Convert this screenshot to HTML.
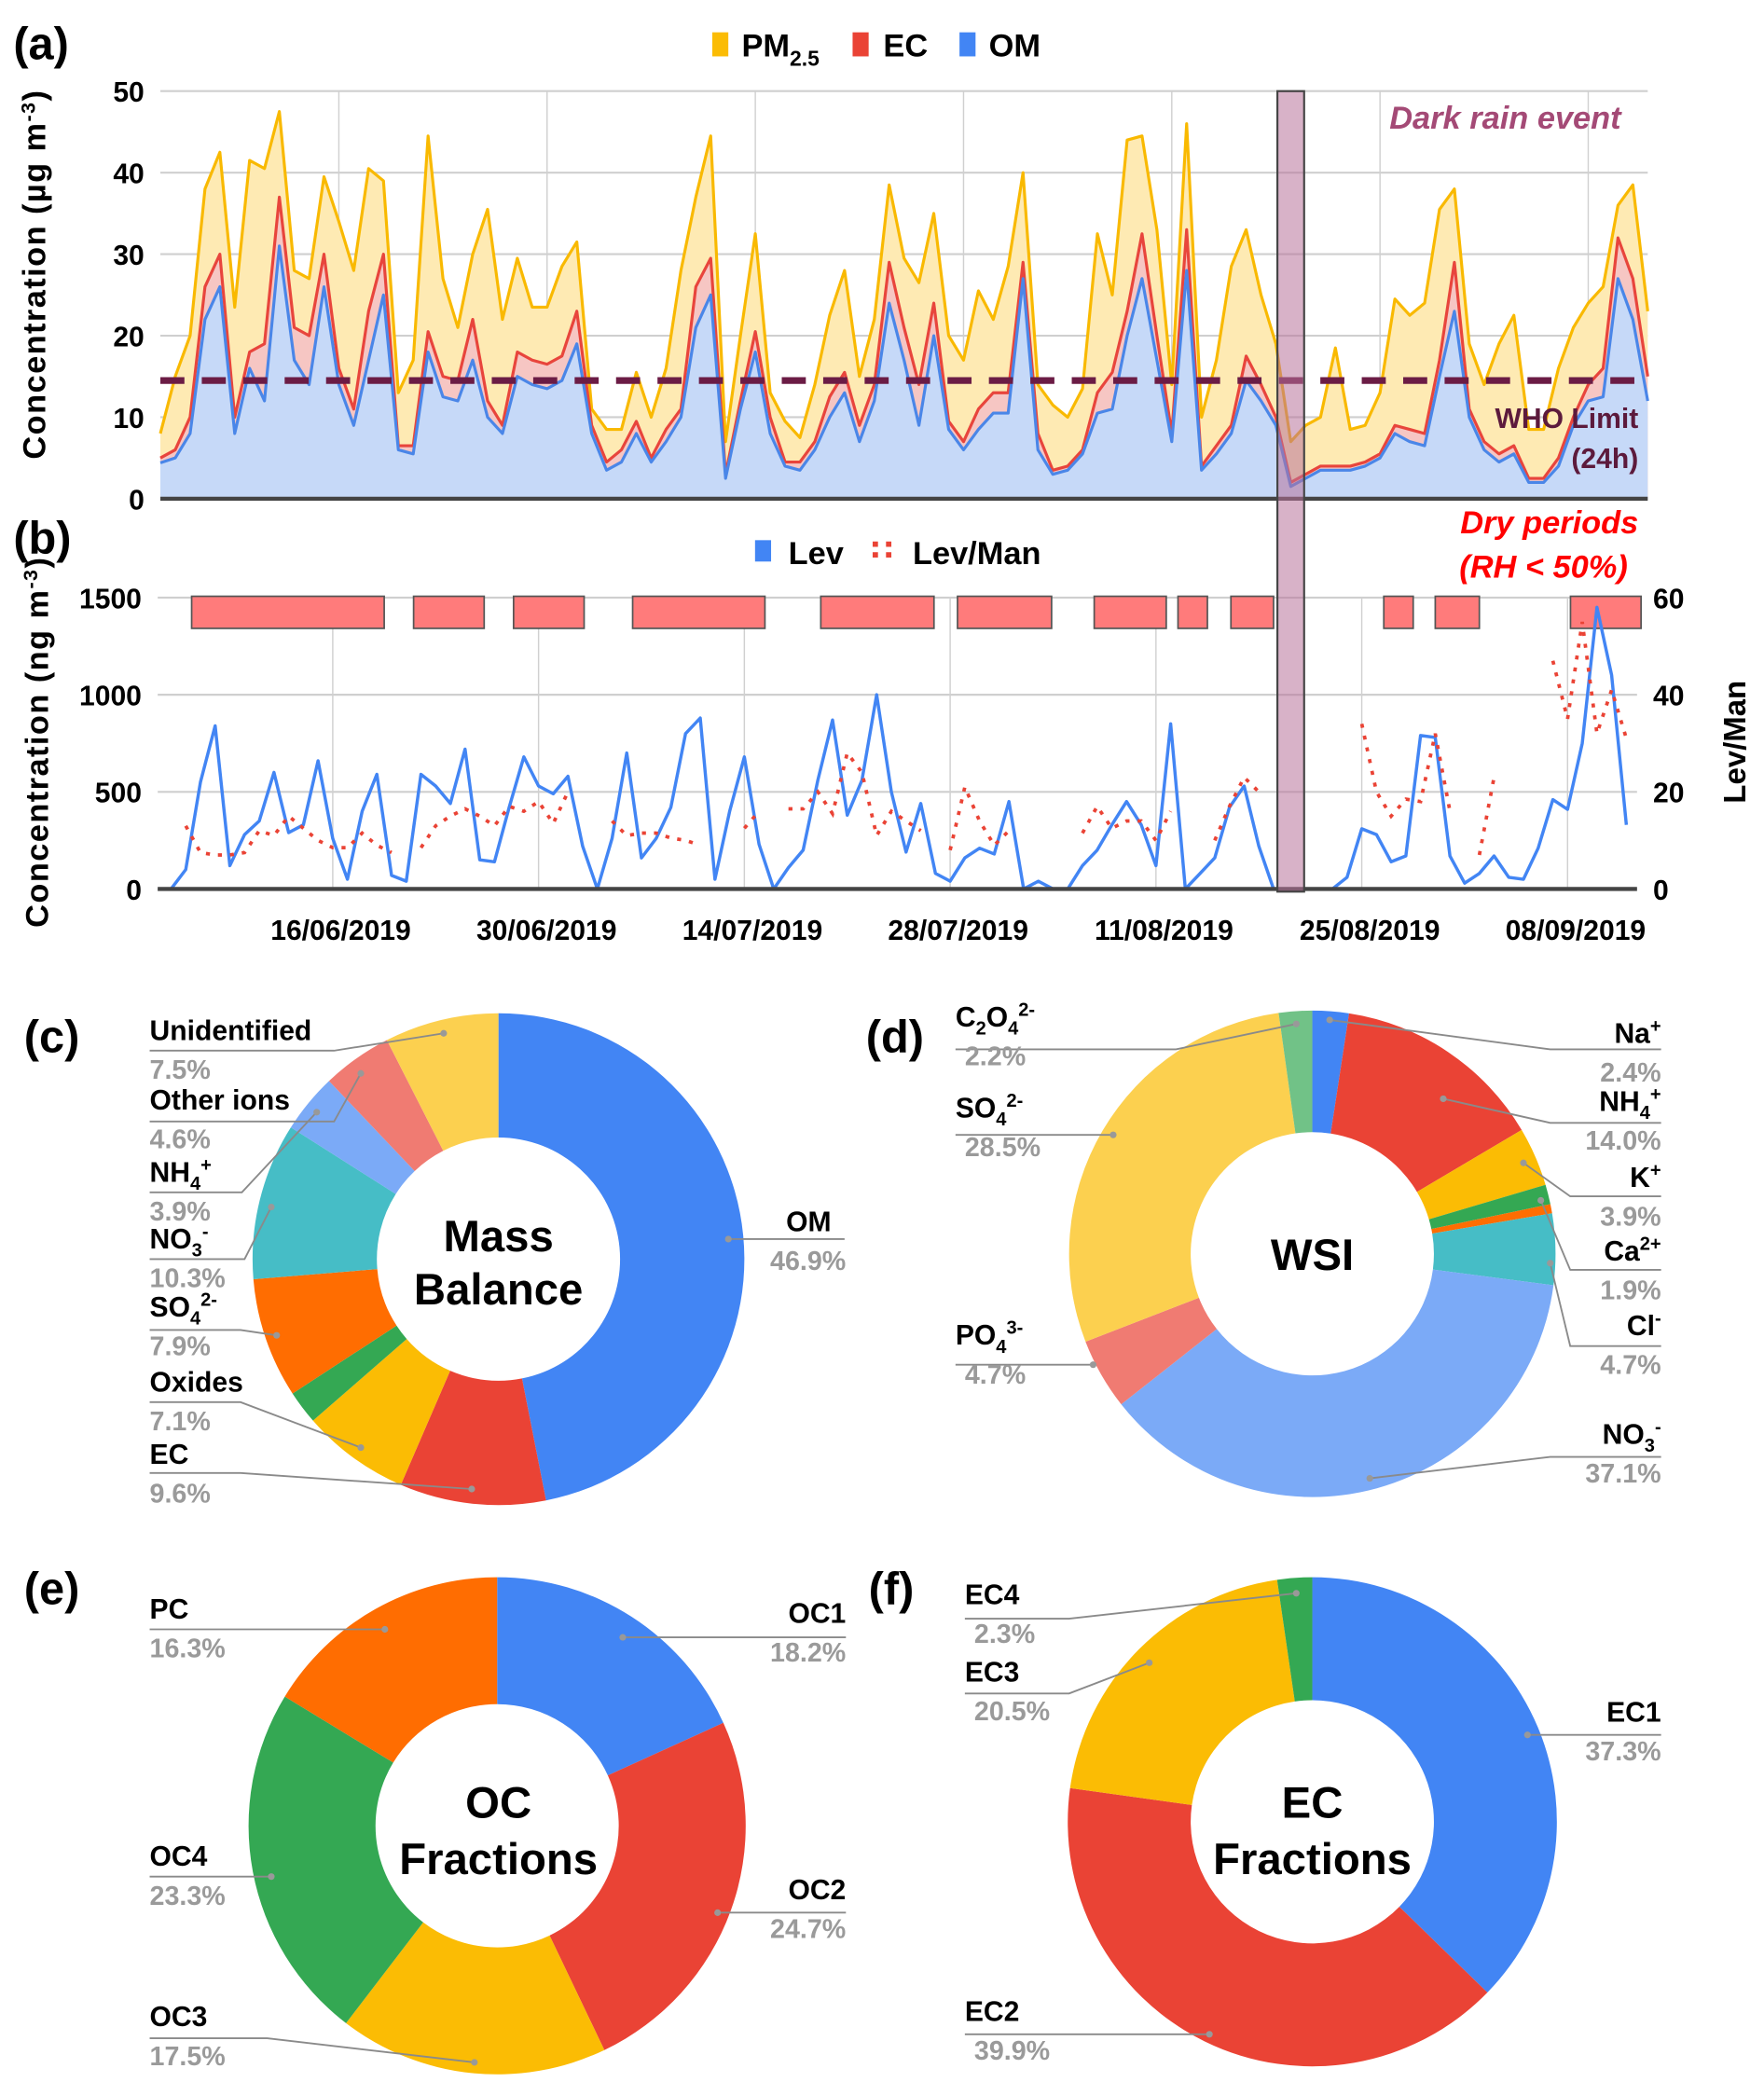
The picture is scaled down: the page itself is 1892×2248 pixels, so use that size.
<!DOCTYPE html>
<html><head><meta charset="utf-8"><style>
html,body{margin:0;padding:0;background:#fff;}
svg{display:block;font-family:"Liberation Sans",sans-serif;}
</style></head><body>
<svg id="s" width="1892" height="2248" viewBox="0 0 1320 1568" xmlns="http://www.w3.org/2000/svg">
<g id="ga"></g>
<g id="gb"></g>
<g id="gp"></g>
<g font-weight="bold">
<text x="10" y="44" font-size="34">(a)</text>
<text x="10" y="414" font-size="34">(b)</text>
<text x="18" y="787" font-size="34">(c)</text>
<text x="648" y="787" font-size="34">(d)</text>
<text x="18" y="1200" font-size="34">(e)</text>
<text x="650" y="1200" font-size="34">(f)</text>
<text transform="translate(34,205) rotate(-90)" text-anchor="middle" font-size="24" letter-spacing="1">Concentration (µg m<tspan dy="-8" font-size="15">-3</tspan><tspan dy="8">)</tspan></text>
<text transform="translate(36,555) rotate(-90)" text-anchor="middle" font-size="24" letter-spacing="1">Concentration (ng m<tspan dy="-8" font-size="15">-3</tspan><tspan dy="8">)</tspan></text>
<text transform="translate(1306,555) rotate(-90)" text-anchor="middle" font-size="23">Lev/Man</text>
<rect x="533" y="24" width="12" height="18" fill="#fbbc04"/>
<text x="555" y="42" font-size="24">PM<tspan dy="7" font-size="16">2.5</tspan></text>
<rect x="638" y="24" width="12" height="18" fill="#ea4335"/>
<text x="661" y="42" font-size="24">EC</text>
<rect x="718" y="24" width="12" height="18" fill="#4285f4"/>
<text x="740" y="42" font-size="24">OM</text>
<rect x="565" y="404" width="12" height="16" fill="#4285f4"/>
<text x="590" y="422" font-size="24">Lev</text>
<g fill="#ea4335"><rect x="653" y="405" width="4" height="4"/><rect x="653" y="413" width="4" height="4"/><rect x="663" y="405" width="4" height="4"/><rect x="663" y="413" width="4" height="4"/></g>
<text x="683" y="422" font-size="24">Lev/Man</text>
<text x="1213" y="96" text-anchor="end" font-size="24" font-style="italic" fill="#a44a76">Dark rain event</text>
<text x="1226" y="320" text-anchor="end" font-size="21" fill="#5c1a3c">WHO Limit</text>
<text x="1226" y="350" text-anchor="end" font-size="21" fill="#5c1a3c">(24h)</text>
<text x="1226" y="399" text-anchor="end" font-size="24" font-style="italic" fill="#ff0000">Dry periods</text>
<text x="1218" y="432" text-anchor="end" font-size="24" font-style="italic" fill="#ff0000">(RH &lt; 50%)</text>
</g>
</svg>
<script>
// ---------- chart (a) data ----------
const pmVals=[8,15,20,38,42.5,23.5,41.5,40.5,47.5,28,27,39.5,34,28,40.5,39,13,17,44.5,27,21,30,35.5,22,29.5,23.5,23.5,28.5,31.5,11,8.5,8.5,15.5,10,16,28,37,44.5,7,20,32.5,13,9.5,7.5,14,22.5,28,15,22,38.5,29.5,26.5,35,20,17,25.5,22,28.5,40,14,11.5,10,13.5,32.5,25,44,44.5,33,14,46,10,17,28.5,33,25,19,7,9,10,18.5,8.5,9,13,24.5,22.5,24,35.5,38,19,14,19,22.5,8.5,8.5,16,21,24,26,36,38.5,23];
const ecVals=[5,6,10,26,30,10,18,19,37,21,20,30,16,11,23,30,6.5,6.5,20.5,15,14.5,22,12,9,18,17,16.5,17.5,23,9,4.5,6,9.5,5,8.5,11,26,29.5,3,12,20.5,10,4.5,4.5,7,12.5,15.5,9,14,29,21,14,24,9.5,7,11,13,13,29,8,3.5,4,6,13,15.5,23,32.5,20,8,33,4,6.5,9,17.5,14,10,2,3,4,4,4,4.5,5.5,9,8.5,8,17,29,11,7,5.5,6.5,2.5,2.5,5,10,14,16,32,27,15];
const omVals=[4.4,5,8,22,26,8,16,12,31,17,14,26,14,9,17,25,6,5.5,18,12.5,12,17,10,8,15,14,13.5,14.5,19,8,3.5,4.5,8,4.5,7,10,21,25,2.5,11,18,8,4,3.5,6,10,13,7,12,24,17,9,20,8.5,6,8.5,10.5,10.5,27,6,3,3.5,5.5,10.5,11,20,27,17,7,28,3.5,5.5,8,14.5,12,9,1.5,2.5,3.5,3.5,3.5,4,5,8,7,6.5,15,23,10,6,4.5,5.5,2,2,4,9,12,12.5,27,22,12];
const whoLimit=14.5;
const aTicks=[0,10,20,30,40,50];
// ---------- chart (b) data ----------
const levVals=[0,100,550,840,120,280,350,600,290,330,660,260,50,400,590,70,40,590,530,440,720,150,140,420,680,530,490,580,220,0,260,700,160,260,420,800,880,50,400,680,230,0,110,200,560,870,380,560,1000,500,190,440,80,40,160,210,180,450,0,40,0,0,120,200,330,450,330,120,850,0,80,160,420,530,220,0,0,0,0,0,60,310,280,140,170,790,780,170,30,80,170,60,50,210,460,410,750,1450,1100,330];
const levManVals=[null,13,7.5,7,7,7.5,12,11,15,12.5,10,8.5,8.5,11.5,9,7.5,null,8.5,13,15,16.5,15,13,17,16,18,13.5,20,null,null,14,11,11.5,11.5,10.5,10,9,null,null,12.5,16,null,16.5,16.5,20,15.5,28,24,11,16,14,12,null,8,21,14,9,12,null,null,null,null,11.5,17,12.5,14,14,10,16,null,null,10,17,23,20,null,null,null,null,null,null,34,20,15,18.5,18,32,16,null,7,23,null,null,null,47,35,55,32,41,31];
const bTicksL=[0,500,1000,1500];
const bTicksR=[0,20,40,60];
const dateLabels=["16/06/2019","30/06/2019","14/07/2019","28/07/2019","11/08/2019","25/08/2019","08/09/2019"];
const dateIdx=[12,26,40,54,68,82,96];
const dryStart=[1.4,16.5,23.3,31.4,44.2,53.5,62.8,68.5,72.1,82.5,86,95.2];
const dryEnd=[14.5,21.3,28.1,40.4,51.9,59.9,67.7,70.5,75,84.5,89,100];
const rainIdx=76;
// ---------- pie data ----------
const massLabels=["OM","EC","Oxides","","SO4","NO3","NH4","Other ions","Unidentified"];
const massVals=[46.9,9.6,7.1,2.2,7.9,10.3,3.9,4.6,7.5];
const wsiLabels=["Na+","NH4+","K+","","Ca2+","Cl-","NO3-","PO43-","SO42-","C2O42-"];
const wsiVals=[2.4,14.0,3.9,1.3,0.6,4.7,37.1,4.7,28.5,2.2];
const ocLabels=["OC1","OC2","OC3","OC4","PC"];
const ocVals=[18.2,24.7,17.5,23.3,16.3];
const ecfLabels=["EC1","EC2","EC3","EC4"];
const ecfVals=[37.3,39.9,20.5,2.3];

const NS="http://www.w3.org/2000/svg";
function mk(p,t,a){const e=document.createElementNS(NS,t);for(const k in a)e.setAttribute(k,a[k]);p.appendChild(e);return e;}
// ---- chart a ----
const ga=document.getElementById('ga');
const aX0=120,aX1=1233,aY0=373,aY1=68;
const xa=i=>aX0+i*(aX1-aX0)/(pmVals.length-1);
const ya=v=>aY0-(v/50)*(aY0-aY1);
aTicks.forEach(t=>{const l=mk(ga,'line',{x1:aX0,x2:aX1,y1:ya(t),y2:ya(t),stroke:'#cfcfcf','stroke-width':1.5});

const tx=mk(ga,'text',{x:108,y:ya(t)+8,'text-anchor':'end','font-size':21,'font-weight':'bold'});tx.textContent=t;
});
dateIdx.forEach(d=>{const l=mk(ga,'line',{x1:xa(d),x2:xa(d),y1:aY1,y2:aY0,stroke:'#d0d0d0','stroke-width':1});
});
function area(vals,fill,stroke,name){
 let d='M'+xa(0)+','+ya(0);vals.forEach((v,i)=>d+='L'+xa(i)+','+ya(v));d+='L'+xa(vals.length-1)+','+ya(0)+'Z';
 const a=mk(ga,'path',{d:d,fill:fill});
 let d2='';vals.forEach((v,i)=>d2+=(i?'L':'M')+xa(i)+','+ya(v));
 const l=mk(ga,'path',{d:d2,fill:'none',stroke:stroke,'stroke-width':2.2,'stroke-linejoin':'round'});}
area(pmVals,'#feeab3','#f9b900','pm25');
area(ecVals,'#f6c6c3','#e8453c','ec');
area(omVals,'#c6d9f8','#4a86e8','om');
const wl=mk(ga,'line',{x1:aX0,x2:aX1,y1:ya(whoLimit),y2:ya(whoLimit),stroke:'#6b1c45','stroke-width':5,'stroke-dasharray':'18,13'});

const ax=mk(ga,'line',{x1:aX0,x2:aX1,y1:aY0,y2:aY0,stroke:'#444','stroke-width':3});

// ---- chart b ----
const gb=document.getElementById('gb');
const bX0=118,bX1=1225,bY0=665,bY1=447;
const xb=i=>128+i*(1217-128)/(levVals.length-1);
const yb=v=>bY0-(v/1500)*(bY0-bY1);
const yr=v=>bY0-(v/60)*(bY0-bY1);
bTicksL.forEach(t=>{const l=mk(gb,'line',{x1:bX0,x2:bX1,y1:yb(t),y2:yb(t),stroke:'#cfcfcf','stroke-width':1.5});

const tx=mk(gb,'text',{x:106,y:yb(t)+8,'text-anchor':'end','font-size':21,'font-weight':'bold'});tx.textContent=t;
});
bTicksR.forEach(t=>{const tx=mk(gb,'text',{x:1237,y:yr(t)+8,'font-size':21,'font-weight':'bold'});tx.textContent=t;
});
dateIdx.forEach((d,k)=>{const x=xb(d-1);const l=mk(gb,'line',{x1:x,x2:x,y1:bY1,y2:bY0,stroke:'#d0d0d0','stroke-width':1});

const tx=mk(gb,'text',{x:x+6,y:703,'text-anchor':'middle','font-size':21,'font-weight':'bold'});tx.textContent=dateLabels[k];
});
dryStart.forEach((s,k)=>{const x1=xb(s),x2=xb(dryEnd[k]);
const r=mk(gb,'rect',{x:x1,y:446,width:x2-x1,height:24,fill:'#ff7b7b',stroke:'#555','stroke-width':1.2});
});
let dl='';levVals.forEach((v,i)=>dl+=(i?'L':'M')+xb(i)+','+yb(v));
const lv=mk(gb,'path',{d:dl,fill:'none',stroke:'#4285f4','stroke-width':2.4,'stroke-linejoin':'round'});

let dm='',pen=false;levManVals.forEach((v,i)=>{if(v===null){pen=false;return;}dm+=(pen?'L':'M')+xb(i)+','+yr(v);pen=true;});
const lm=mk(gb,'path',{d:dm,fill:'none',stroke:'#ea4335','stroke-width':2.6,'stroke-dasharray':'3,6'});

const bx=mk(gb,'line',{x1:bX0,x2:bX1,y1:bY0,y2:bY0,stroke:'#444','stroke-width':3});

const rb=mk(gb,'rect',{x:xa(rainIdx)-10,y:68,width:20,height:599,fill:'#b8739a','fill-opacity':0.55,stroke:'#444','stroke-width':1.5});

// ---- pies ----
const gp=document.getElementById('gp');
function pie(cx,cy,R,r,vals,cols,name){const tot=vals.reduce((a,b)=>a+b,0);let a0=-Math.PI/2;
vals.forEach((v,i)=>{const a1=a0+v/tot*2*Math.PI;const lg=(a1-a0)>Math.PI?1:0;
const p=[cx+R*Math.cos(a0),cy+R*Math.sin(a0),cx+R*Math.cos(a1),cy+R*Math.sin(a1),cx+r*Math.cos(a1),cy+r*Math.sin(a1),cx+r*Math.cos(a0),cy+r*Math.sin(a0)];
const s=mk(gp,'path',{d:`M${p[0]},${p[1]}A${R},${R} 0 ${lg} 1 ${p[2]},${p[3]}L${p[4]},${p[5]}A${r},${r} 0 ${lg} 0 ${p[6]},${p[7]}Z`,fill:cols[i]});
a0=a1;});}
pie(373,942,184,91,massVals,['#4285f4','#ea4335','#fbbc04','#34a853','#ff6d01','#46bdc6','#7baaf7','#f07b72','#fcd04f'],'mass-balance');
pie(982,938,182,91,wsiVals,['#4285f4','#ea4335','#fbbc04','#34a853','#ff6d01','#46bdc6','#7baaf7','#f07b72','#fcd04f','#71c287'],'wsi');
pie(372,1366,186,91,ocVals,['#4285f4','#ea4335','#fbbc04','#34a853','#ff6d01'],'oc-fractions');
pie(982,1363,183,91,ecfVals,['#4285f4','#ea4335','#fbbc04','#34a853'],'ec-fractions');
const L=[
['Unidentified','7.5%',112,778,'s',[[112,786],[250,786],[332,773]]],
['Other ions','4.6%',112,830,'s',[[112,839],[250,839],[270,803]]],
['NH<tspan dy="6" font-size="14">4</tspan><tspan dy="-14" font-size="14">+</tspan>','3.9%',112,884,'s',[[112,892],[181,892],[237,832]]],
['NO<tspan dy="6" font-size="14">3</tspan><tspan dy="-14" font-size="14">-</tspan>','10.3%',112,934,'s',[[112,942],[183,942],[203,903]]],
['SO<tspan dy="6" font-size="14">4</tspan><tspan dy="-14" font-size="14">2-</tspan>','7.9%',112,985,'s',[[112,995],[180,995],[207,999]]],
['Oxides','7.1%',112,1041,'s',[[112,1049],[180,1049],[270,1083]]],
['EC','9.6%',112,1095,'s',[[112,1102],[180,1102],[353,1114]]],
['OM','46.9%',622,921,'e',[[545,927],[632,927]]],
['C<tspan dy="6" font-size="14">2</tspan><tspan dy="-6">O</tspan><tspan dy="6" font-size="14">4</tspan><tspan dy="-14" font-size="14">2-</tspan>','2.2%',715,768,'s',[[715,785],[880,785],[970,766]]],
['Na<tspan dy="-8" font-size="14">+</tspan>','2.4%',1243,780,'e',[[995,763],[1160,785],[1243,785]]],
['NH<tspan dy="6" font-size="14">4</tspan><tspan dy="-14" font-size="14">+</tspan>','14.0%',1243,831,'e',[[1080,822],[1160,840],[1243,840]]],
['SO<tspan dy="6" font-size="14">4</tspan><tspan dy="-14" font-size="14">2-</tspan>','28.5%',715,836,'s',[[715,849],[833,849]]],
['K<tspan dy="-8" font-size="14">+</tspan>','3.9%',1243,888,'e',[[1140,870],[1175,895],[1243,895]]],
['Ca<tspan dy="-8" font-size="14">2+</tspan>','1.9%',1243,943,'e',[[1153,898],[1175,950],[1243,950]]],
['Cl<tspan dy="-8" font-size="14">-</tspan>','4.7%',1243,999,'e',[[1160,945],[1175,1007],[1243,1007]]],
['PO<tspan dy="6" font-size="14">4</tspan><tspan dy="-14" font-size="14">3-</tspan>','4.7%',715,1006,'s',[[715,1021],[818,1021]]],
['NO<tspan dy="6" font-size="14">3</tspan><tspan dy="-14" font-size="14">-</tspan>','37.1%',1243,1080,'e',[[1025,1106],[1160,1090],[1243,1090]]],
['PC','16.3%',112,1211,'s',[[112,1219],[288,1219]]],
['OC1','18.2%',633,1214,'e',[[466,1225],[633,1225]]],
['OC4','23.3%',112,1396,'s',[[112,1404],[203,1404]]],
['OC2','24.7%',633,1421,'e',[[537,1431],[633,1431]]],
['OC3','17.5%',112,1516,'s',[[112,1525],[200,1525],[355,1543]]],
['EC4','2.3%',722,1200,'s',[[722,1211],[800,1211],[970,1192]]],
['EC3','20.5%',722,1258,'s',[[722,1267],[800,1267],[860,1244]]],
['EC1','37.3%',1243,1288,'e',[[1143,1298],[1243,1298]]],
['EC2','39.9%',722,1512,'s',[[722,1522],[905,1522]]]];
L.forEach(o=>{const pts=o[5];
const pl=mk(gp,'polyline',{points:pts.map(p=>p.join(',')).join(' '),fill:'none',stroke:'#8a8a8a','stroke-width':1.3});

const dot=o[4]==='e'?pts[0]:pts[pts.length-1];
const c=mk(gp,'circle',{cx:dot[0],cy:dot[1],r:2.5,fill:'#999'});
const an=o[4]==='e'?'end':'start';
const t=mk(gp,'text',{x:o[2],y:o[3],'font-size':21,'font-weight':'bold','text-anchor':an});t.innerHTML=o[0];

const px=o[4]==='e'?(o[2]<700?633:1243):o[2]+(o[2]>700?7:0);
const t2=mk(gp,'text',{x:px,y:o[3]+29,'font-size':20,'font-weight':'bold',fill:'#9a9a9a','text-anchor':an});t2.textContent=o[1];
});
[['Mass',373,936],['Balance',373,976],['WSI',982,950],['OC',373,1360],['Fractions',373,1402],['EC',982,1360],['Fractions',982,1402]].forEach(c=>{
const t=mk(gp,'text',{x:c[1],y:c[2],'text-anchor':'middle','font-size':33,'font-weight':'bold'});t.textContent=c[0];
});
</script>
</body></html>
